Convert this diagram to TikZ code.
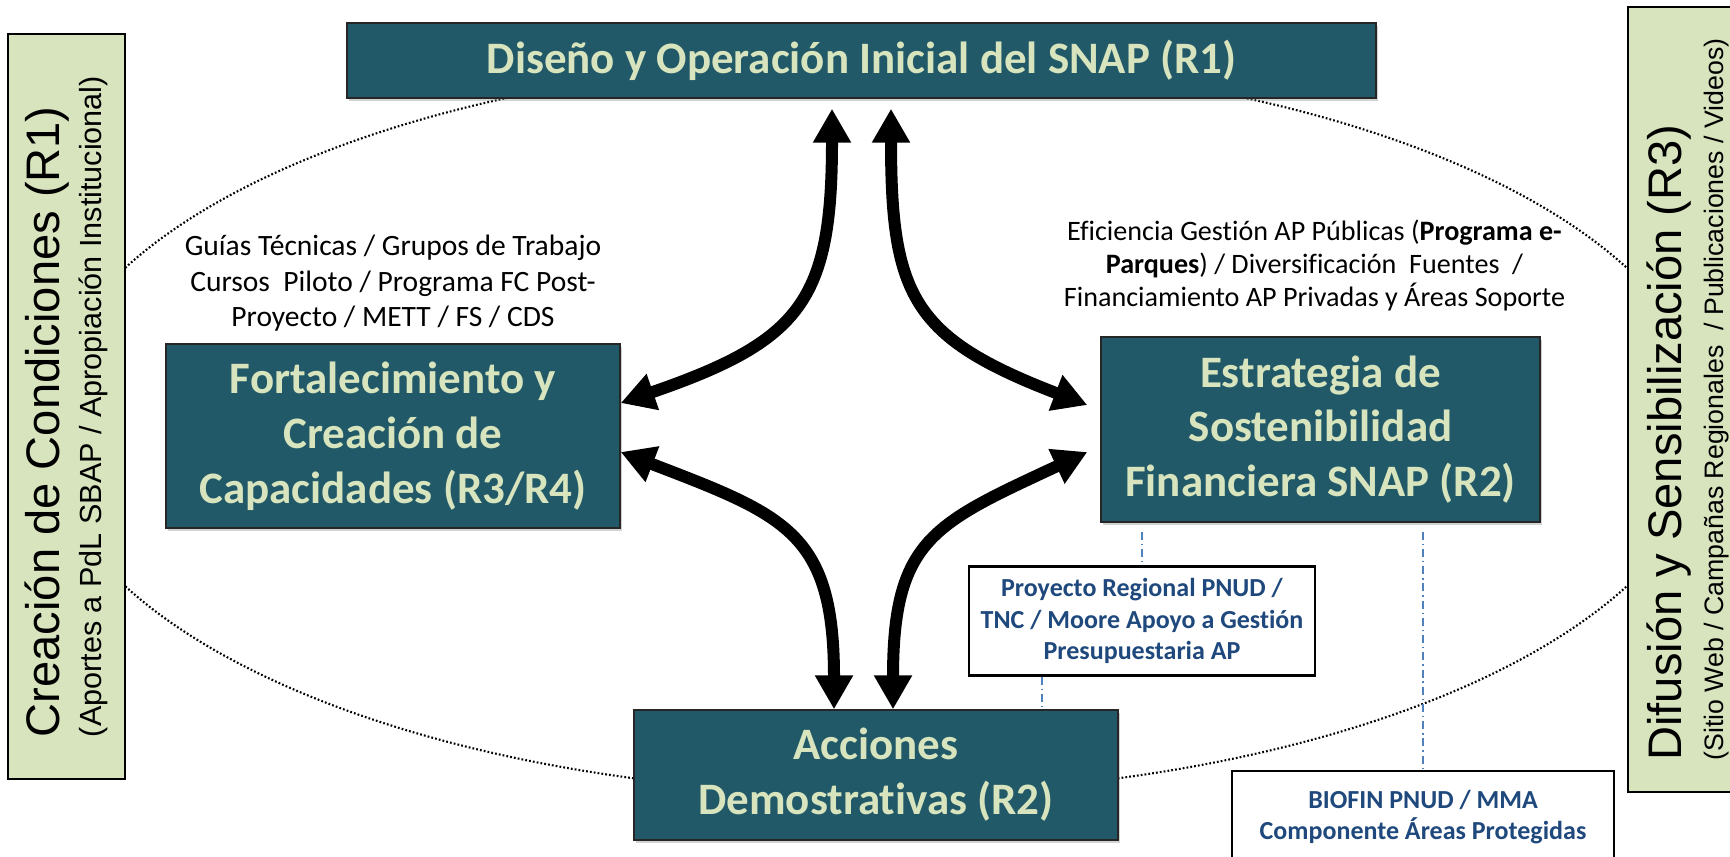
\documentclass[tikz,border=0pt]{standalone}
\usepackage{fontspec}
\setmainfont{Carlito}[Ligatures={NoCommon,NoContextual}]
\newfontfamily\arialfont{Liberation Sans}
\usetikzlibrary{arrows.meta,shadows,positioning,calc}

\definecolor{snapteal}{HTML}{215968}
\definecolor{snapgreen}{HTML}{D7E4BD}
\definecolor{snapblue}{HTML}{1F497D}
\definecolor{linkblue}{HTML}{4F81BD}

\begin{document}
\begin{tikzpicture}

  \tikzstyle{every node}=[font=\normalsize]

  \tikzset{result/.style={draw=black!85, line width=0.4pt, fill=snapteal,
      text=snapgreen, align=center,
      font=\bfseries\fontsize{12.8}{15.6}\selectfont,
      drop shadow={shadow xshift=0.6pt, shadow yshift=-0.8pt, opacity=0.35}}}
  \tikzset{axis/.style={draw=black, line width=0.6pt, fill=snapgreen,
      rotate=90, align=left, inner sep=0}}
  \tikzset{note/.style={align=center, inner sep=0,
      font=\fontsize{8.4}{10.1}\selectfont}}
  \tikzset{project/.style={draw=black, line width=0.6pt, fill=white,
      text=snapblue, align=center, font=\bfseries\fontsize{7.4}{9}\selectfont}}
  \tikzset{link/.style={linkblue, line width=0.6pt,
      dash pattern=on 2.3pt off 1.1pt on 0.4pt off 1.1pt}}
  \tikzset{ring/.style={black, line width=0.6pt, dash pattern=on 0.5pt off 0.6pt}}
  \tikzset{flow/.style={line width=0.12cm, looseness=1.35,
      {Triangle[length=0.34cm,width=0.36cm]}-{Triangle[length=0.34cm,width=0.36cm]}}}

  \useasboundingbox (0,0) rectangle (17.30,-8.56);

  % Dotted ring behind everything
  \coordinate (ring center) at (8.76,-4.27);
  \draw[ring] (ring center) ellipse [x radius=8.33, y radius=3.67];

  % Side bands
  \node[axis, minimum width=7.45cm, minimum height=1.17cm] (Condiciones) at (0.665,-4.065)
  {{\arialfont\fontsize{13.4}{16}\selectfont Creación de Condiciones (R1)}\\
    \arialfont\fontsize{8.7}{11.1}\selectfont (Aportes a PdL SBAP / Apropiación Institucional)};
  \node[axis, minimum width=7.85cm, minimum height=1.2cm] (Difusion) at (16.88,-3.995)
  {{\arialfont\fontsize{13.4}{16}\selectfont Difusión y Sensibilización (R3)}\\
    \arialfont\fontsize{7.6}{12}\selectfont (Sitio Web / Campañas Regionales~~/ Publicaciones / Videos)};

  % Results
  \node[result, minimum width=10.29cm, minimum height=0.75cm] (Diseno) at (8.615,-0.605)
  {Diseño y Operación Inicial del SNAP (R1)};
  \node[result, minimum width=4.54cm, minimum height=1.84cm] (Fortalecimiento) at (3.93,-4.36)
  {Fortalecimiento y\\Creación de\\Capacidades (R3/R4)};
  \node[result, minimum width=4.39cm, minimum height=1.85cm] (Estrategia) at (13.205,-4.295)
  {Estrategia de\\Sostenibilidad\\Financiera SNAP (R2)};
  \node[result, minimum width=4.84cm, minimum height=1.30cm] (Acciones) at (8.76,-7.75)
  {Acciones\\Demostrativas (R2)};

  % Notes above the side results
  \node[note, above=0.11 of Fortalecimiento] (Guias)
  {Guías Técnicas / Grupos de Trabajo\\Cursos~~Piloto / Programa FC Post-\\Proyecto / METT / FS / CDS};
  \node[note, above=0.25 of Estrategia, xshift=-0.06cm,
    font=\fontsize{8.0}{9.3}\selectfont] (Eficiencia)
  {Eficiencia Gestión AP Públicas (\textbf{Programa e-}\\
    \textbf{Parques}) / Diversificación~~Fuentes~~/\\
    Financiamiento AP Privadas y Áreas Soporte};

  % Supporting projects
  \node[project, minimum width=3.42cm, minimum height=1.06cm] (Proyecto Regional) at (11.42,-6.21)
  {Proyecto Regional PNUD /\\TNC / Moore Apoyo a Gestión\\Presupuestaria AP};
  \node[project, minimum width=3.82cm, minimum height=0.92cm] (Biofin) at (14.23,-8.17)
  {BIOFIN PNUD / MMA\\Componente Áreas Protegidas};

  % Dash-dotted links
  \draw[link] ($(Proyecto Regional.north |- Estrategia.south)+(0,-0.09)$) -- (Proyecto Regional.north);
  \coordinate (link low) at ($(Proyecto Regional.south)+(-1.0,0)$);
  \draw[link] (link low) -- (link low |- Acciones.north);
  \draw[link] ($(Biofin.north |- Estrategia.south)+(0,-0.09)$) -- (Biofin.north);

  % Arrows between results
  \draw[flow] ($(Diseno.south)+(-0.295,-0.1)$) to[out=-90,in=19] ($(Fortalecimiento.east)+(0,0.33)$);
  \draw[flow] ($(Diseno.south)+(0.295,-0.1)$) to[out=-90,in=159] ($(Estrategia.west)+(-0.13,0.245)$);
  \draw[flow] ($(Fortalecimiento.east)+(0,-0.16)$) to[out=-21,in=90] ($(Acciones.north)+(-0.42,0)$);
  \draw[flow] ($(Estrategia.west)+(-0.13,-0.225)$) to[out=205,in=90] ($(Acciones.north)+(0.17,0)$);

\end{tikzpicture}
\end{document}
